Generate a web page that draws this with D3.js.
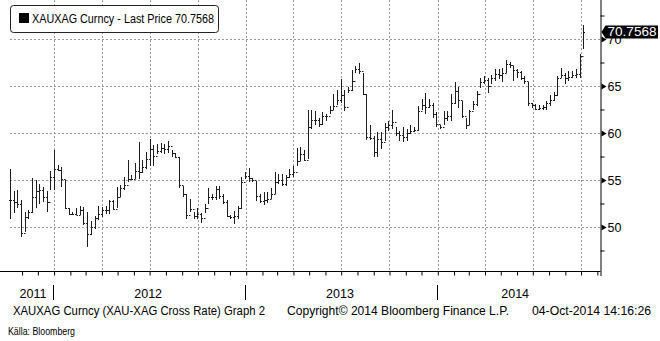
<!DOCTYPE html>
<html>
<head>
<meta charset="utf-8">
<script src="https://cdn.jsdelivr.net/npm/d3@7"></script>
<style>
  html, body { margin: 0; padding: 0; background: #fff; }
  svg { display: block; font-family: "Liberation Sans", Arial, sans-serif; }
</style>
</head>
<body>
<svg id="chart" width="660" height="341"></svg>
<script>
// Weekly XAU/XAG cross rate bars, week ending Sunday 9 Oct 2011 .. 5 Oct 2014
const weekHigh = [
  56.2, 53.85, 53.9, 52.9, 51.6, 51.8, 55.2, 55.0, 54.6, 54.3,
  53.8, 56.0, 58.2, 56.6, 56.4, 55.05, 52.0, 51.6, 52.0, 52.2,
  52.1, 51.6, 50.6, 51.2, 52.2, 52.1, 52.2, 52.9, 52.9, 54.3,
  54.5, 55.3, 57.1, 55.5, 56.8, 59.0, 57.1, 58.0, 59.4, 58.7,
  58.8, 58.9, 58.8, 59.2, 58.2, 57.9, 57.5, 54.4, 53.5, 53.0,
  51.6, 52.0, 51.5, 52.5, 54.1, 53.5, 54.4, 54.4, 53.5, 52.9,
  51.3, 51.7, 52.2, 55.3, 55.8, 56.3, 55.2, 54.9, 53.5, 53.7,
  53.7, 54.2, 55.8, 55.6, 55.6, 55.5, 56.2, 56.5, 58.4, 58.5,
  58.2, 62.5, 62.5, 62.3, 61.6, 62.2, 62.0, 62.9, 64.1, 64.6,
  65.7, 64.6, 64.9, 66.7, 67.1, 67.5, 66.4, 64.2, 60.8, 59.7,
  60.1, 60.1, 61.1, 61.3, 62.5, 60.6, 60.2, 60.6, 60.4, 60.8,
  60.6, 62.9, 63.6, 64.3, 63.6, 63.2, 62.2, 60.9, 62.3, 62.3,
  64.1, 65.4, 64.9, 63.4, 61.6, 62.5, 63.4, 64.5, 65.9, 66.1,
  65.9, 66.2, 66.8, 66.8, 66.9, 67.8, 67.6, 67.1, 66.8, 66.6,
  66.1, 65.4, 63.2, 63.1, 63.0, 63.0, 63.4, 64.0, 64.4, 66.1,
  66.9, 66.4, 66.6, 66.6, 66.8, 68.4, 71.5
];
const weekLow = [
  50.85, 51.45, 52.0, 48.9, 49.5, 50.9, 51.5, 52.0, 52.5, 52.7,
  51.6, 53.9, 53.9, 56.0, 54.3, 51.9, 51.3, 51.3, 51.3, 51.3,
  50.2, 47.9, 49.2, 49.8, 50.7, 51.1, 51.4, 51.4, 51.8, 52.0,
  53.2, 53.9, 54.8, 55.0, 55.1, 55.1, 55.7, 56.2, 56.5, 56.5,
  57.8, 57.9, 57.8, 57.9, 57.5, 57.3, 54.2, 53.2, 50.9, 51.6,
  50.8, 50.9, 50.4, 51.5, 52.5, 52.9, 52.9, 53.0, 52.4, 51.1,
  50.9, 50.3, 50.9, 51.9, 55.1, 54.8, 54.8, 52.8, 52.6, 52.3,
  52.6, 53.0, 53.5, 54.6, 54.4, 54.4, 55.2, 55.3, 56.5, 57.0,
  57.0, 57.2, 60.4, 60.8, 60.6, 60.8, 61.3, 62.0, 62.5, 63.0,
  63.2, 62.3, 64.3, 64.5, 66.4, 66.3, 64.0, 59.3, 59.3, 57.4,
  57.4, 58.3, 59.2, 60.2, 60.4, 59.7, 59.2, 59.0, 59.2, 59.9,
  60.1, 60.2, 62.5, 62.0, 62.7, 61.6, 60.6, 60.4, 60.9, 61.3,
  61.3, 63.1, 62.7, 61.6, 60.4, 60.8, 62.5, 62.9, 64.8, 65.2,
  64.3, 65.2, 65.5, 65.7, 65.4, 66.4, 66.9, 65.5, 65.9, 65.6,
  65.2, 62.9, 62.7, 62.4, 62.4, 62.5, 62.5, 62.9, 63.4, 63.9,
  65.9, 65.2, 65.5, 65.9, 65.9, 65.8, 68.9
];
const weekClose = [
  52.9, 52.7, 52.4, 49.4, 51.1, 51.6, 53.2, 53.8, 53.9, 53.2,
  52.7, 55.3, 56.2, 56.1, 55.1, 52.0, 51.4, 51.35, 51.3, 51.8,
  50.4, 49.3, 50.0, 51.0, 51.4, 51.8, 51.8, 52.8, 51.9, 53.2,
  54.1, 54.5, 55.1, 55.1, 56.0, 55.8, 56.4, 57.2, 58.3, 57.6,
  58.1, 58.4, 58.3, 58.6, 57.9, 57.5, 54.5, 53.5, 51.3, 51.9,
  51.2, 51.4, 51.0, 52.0, 53.2, 53.2, 54.0, 53.3, 52.7, 51.2,
  51.1, 51.2, 52.0, 54.8, 55.4, 55.2, 55.0, 53.3, 52.8, 52.9,
  53.0, 53.5, 54.8, 55.0, 54.6, 55.3, 55.6, 55.8, 57.0, 57.8,
  57.1, 60.6, 61.4, 61.4, 61.0, 61.8, 61.8, 62.5, 62.9, 63.5,
  64.0, 62.8, 64.6, 65.5, 66.8, 66.6, 64.2, 59.6, 59.5, 58.0,
  59.4, 59.0, 60.6, 60.8, 61.2, 60.0, 59.8, 59.6, 60.0, 60.2,
  60.3, 62.3, 63.0, 62.8, 63.0, 62.0, 61.0, 60.6, 61.6, 61.8,
  63.2, 64.5, 63.5, 61.8, 60.8, 62.3, 63.1, 64.2, 65.4, 65.6,
  65.0, 65.8, 66.3, 66.2, 66.4, 67.3, 67.2, 66.7, 66.5, 65.9,
  65.5, 63.2, 63.0, 62.6, 62.7, 62.8, 63.2, 63.5, 64.0, 65.8,
  66.2, 65.9, 66.0, 66.2, 66.3, 68.2, 70.7568
];
const lastPrice = 70.7568;
const yMajorTicks = [50, 55, 60, 65, 70];
const yMinorTicks = [47.5, 52.5, 57.5, 62.5, 67.5, 72.5];
const yearLabels = ["2011", "2012", "2013", "2014"];
const legendLabel = "XAUXAG Curncy - Last Price";
const footerLeft = "XAUXAG Curncy (XAU-XAG Cross Rate) Graph 2";
const footerMid = "Copyright\u00A9 2014 Bloomberg Finance L.P.";
const footerRight = "04-Oct-2014 14:16:26";
const sourceNote = "K\u00E4lla: Bloomberg";

const weeks = d3.timeWeek.range(new Date(2011, 9, 9), new Date(2014, 9, 6));
const bars = weeks.map((d, i) => ({
  date: d,
  high: weekHigh[i],
  low: weekLow[i],
  close: weekClose[i],
  open: i > 0 ? weekClose[i - 1] : weekClose[i]
}));

const svg = d3.select("#chart");
const plotLeft = 10, plotRight = 600.5, plotTop = 3, plotBottom = 271;

const x = d3.scaleTime()
  .domain([new Date(2011, 9, 9), new Date(2014, 10, 7)])
  .range([plotLeft, plotRight]);
const y = d3.scaleLinear()
  .domain([45.32, 73.83])
  .range([plotBottom, plotTop]);

const crisp = v => Math.round(v) + 0.5;
const gridColor = "#9a9a9a";

// Horizontal gridlines
svg.append("g").selectAll("line")
  .data(yMajorTicks).join("line")
  .attr("x1", plotLeft).attr("x2", plotRight)
  .attr("y1", d => crisp(y(d))).attr("y2", d => crisp(y(d)))
  .attr("stroke", gridColor).attr("stroke-width", 1)
  .attr("stroke-dasharray", "2,2");

// Vertical gridlines at quarter starts
const quarters = d3.timeMonth.every(3).range(new Date(2012, 0, 1), new Date(2014, 10, 1));
svg.append("g").selectAll("line")
  .data(quarters).join("line")
  .attr("x1", d => crisp(x(d))).attr("x2", d => crisp(x(d)))
  .attr("y1", 0).attr("y2", plotBottom)
  .attr("stroke", gridColor).attr("stroke-width", 1)
  .attr("stroke-dasharray", "2,2");

// Price bars: high-low range, open tick left, close tick right
const barG = svg.append("g").attr("stroke", "#1e1e1e").attr("stroke-width", 1).attr("fill", "none");
barG.selectAll("path")
  .data(bars).join("path")
  .attr("d", d => {
    const cx = crisp(x(d.date));
    const yh = Math.round(y(d.high)), yl = Math.round(y(d.low));
    const yo = crisp(y(d.open)), yc = crisp(y(d.close));
    return `M${cx},${yh}V${Math.max(yl, yh + 1)}M${cx - 1.5},${yo}H${cx}M${cx},${yc}H${cx + 1.5}`;
  });

// Bottom time axis with monthly ticks
const xAxis = d3.axisBottom(x)
  .tickValues(d3.timeMonth.range(new Date(2011, 10, 1), new Date(2014, 10, 8)))
  .tickSize(4).tickFormat("");
const xAxisG = svg.append("g").attr("transform", `translate(0,${plotBottom + 0.5})`).call(xAxis);
xAxisG.select(".domain").attr("d", `M0,0H${plotRight}`).attr("stroke", "#000");
xAxisG.selectAll(".tick line").attr("stroke", "#000");

// Year labels and separators
const yearStarts = [new Date(2012, 0, 1), new Date(2013, 0, 1), new Date(2014, 0, 1)];
const yearSpans = [
  [plotLeft, x(yearStarts[0])],
  [x(yearStarts[0]), x(yearStarts[1])],
  [x(yearStarts[1]), x(yearStarts[2])],
  [x(yearStarts[2]), plotRight]
];
svg.append("g").selectAll("text")
  .data(yearLabels).join("text")
  .attr("x", (d, i) => (yearSpans[i][0] + yearSpans[i][1]) / 2 + (i === 0 ? 1 : i === 3 ? -4 : -2))
  .attr("y", 298)
  .attr("text-anchor", "middle")
  .attr("font-size", 12.5)
  .attr("fill", "#000")
  .text(d => d);
svg.append("g").selectAll("line")
  .data(yearStarts).join("line")
  .attr("x1", d => crisp(x(d)) - 1).attr("x2", d => crisp(x(d)) - 1)
  .attr("y1", 285).attr("y2", 300)
  .attr("stroke", "#000").attr("stroke-width", 1);

// Right value axis
const axisX = plotRight;
const yAxisG = svg.append("g").attr("transform", `translate(${axisX},0)`);
yAxisG.append("line")
  .attr("x1", 0.5).attr("x2", 0.5).attr("y1", 0).attr("y2", plotBottom + 5)
  .attr("stroke", "#000").attr("stroke-width", 1);
const minorAxis = d3.axisRight(y).tickValues(yMinorTicks).tickSize(4).tickFormat("");
const minorG = yAxisG.append("g").call(minorAxis);
minorG.select(".domain").remove();
minorG.selectAll(".tick line").attr("stroke", "#000");

const majorAxis = d3.axisRight(y).tickValues(yMajorTicks).tickSize(0).tickPadding(7)
  .tickFormat(d3.format("d"));
const majorG = yAxisG.append("g").call(majorAxis);
majorG.select(".domain").remove();
majorG.selectAll(".tick text")
  .attr("font-size", 12.5).attr("fill", "#000")
  .attr("font-family", "'Liberation Sans', Arial, sans-serif");
majorG.selectAll(".tick").append("path")
  .attr("d", "M1,-3L6,0L1,3Z").attr("fill", "#000");

// Last price tag
const yLast = y(lastPrice);
svg.append("path")
  .attr("d", `M${axisX + 1},${yLast}L${axisX + 5},${yLast - 6.5}H658V${yLast + 6.5}H${axisX + 5}Z`)
  .attr("fill", "#000");
svg.append("text")
  .attr("x", axisX + 7).attr("y", yLast + 4.5)
  .attr("font-size", 13).attr("fill", "#fff")
  .attr("textLength", 49).attr("lengthAdjust", "spacingAndGlyphs")
  .text(d3.format(".4f")(lastPrice));

// Legend box
const legend = svg.append("g");
legend.append("rect")
  .attr("x", 10.5).attr("y", 5.5).attr("width", 208).attr("height", 27)
  .attr("rx", 3).attr("fill", "#fff").attr("stroke", "#222").attr("stroke-width", 1);
legend.append("rect")
  .attr("x", 19).attr("y", 13).attr("width", 10).attr("height", 10)
  .attr("fill", "#000");
legend.append("text")
  .attr("x", 32).attr("y", 23)
  .attr("font-size", 12.5).attr("fill", "#000")
  .attr("textLength", 182).attr("lengthAdjust", "spacingAndGlyphs")
  .text(`${legendLabel} ${d3.format(".4f")(lastPrice)}`);

// Footer
const footer = svg.append("g").attr("font-size", 12).attr("fill", "#000");
footer.append("text").attr("x", 13).attr("y", 315)
  .attr("textLength", 252).attr("lengthAdjust", "spacingAndGlyphs").text(footerLeft);
footer.append("text").attr("x", 287).attr("y", 315)
  .attr("textLength", 222).attr("lengthAdjust", "spacingAndGlyphs").text(footerMid);
footer.append("text").attr("x", 532).attr("y", 315)
  .attr("textLength", 119).attr("lengthAdjust", "spacingAndGlyphs").text(footerRight);
svg.append("text").attr("x", 8).attr("y", 335)
  .attr("font-size", 10).attr("fill", "#000")
  .attr("textLength", 67).attr("lengthAdjust", "spacingAndGlyphs")
  .text(sourceNote);
</script>
</body>
</html>
